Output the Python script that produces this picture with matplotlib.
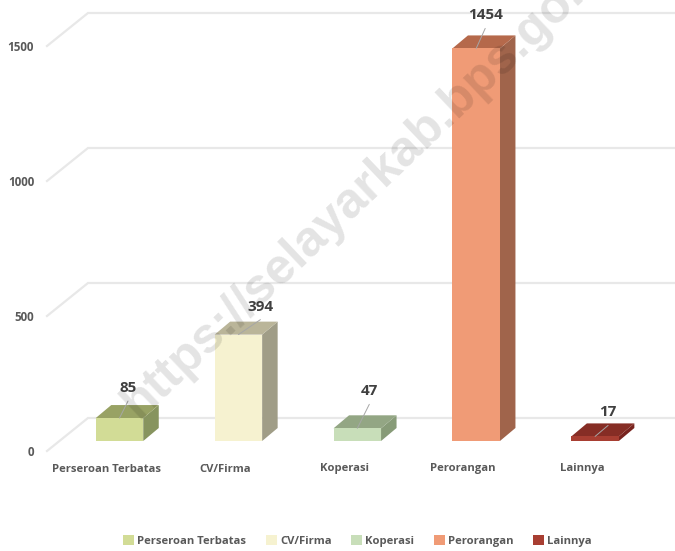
import matplotlib
matplotlib.use("Agg")
import matplotlib.pyplot as plt
from matplotlib.patches import Polygon, Patch

categories = ["Perseroan Terbatas", "CV/Firma", "Koperasi", "Perorangan", "Lainnya"]
values = [85, 394, 47, 1454, 17]
y_ticks = [0, 500, 1000, 1500]
front_colors = ["#D2DC96", "#F6F2D0", "#C8DEB9", "#F09B76", "#A83E32"]
top_colors = ["#98A264", "#BAB599", "#93A684", "#B5694B", "#862D25"]
side_colors = ["#87945F", "#A09D87", "#879B78", "#A0644B", "#78231E"]
label_offsets = [(8.5, 30), (22, 28), (12, 37), (9, 33), (13, 24)]

W, H = 675, 551
PX_X = 118.9          # pixels per category
PX_Y = 0.27           # pixels per unit
X0, Y0 = 119.5, 441   # pixel of category 0 / value 0
BAR_W = 47.5 / PX_X
DX, DY = 15.5 / PX_X, 13 / PX_Y

plt.rcParams["font.family"] = ["Open Sans", "DejaVu Sans"]
fig = plt.figure(figsize=(W / 100, H / 100), dpi=100)
ax = fig.add_axes([0, 0, 1, 1])
ax.set_xlim(-X0 / PX_X, (W - X0) / PX_X)
ax.set_ylim((Y0 - H) / PX_Y, Y0 / PX_Y)
ax.axis("off")

# Gridlines: back wall plus the slanted floor/side segment
grid_c = "#E8E8E8"
gx_left, gx_back = (47 - X0) / PX_X, (88 - X0) / PX_X
gx_right = (W - X0) / PX_X
for v in y_ticks:
    y_back = v + 23 / PX_Y
    y_front = v - 10 / PX_Y
    ax.plot([gx_left, gx_back, gx_right], [y_front, y_back, y_back],
            color=grid_c, lw=1.6, zorder=1, solid_joinstyle="miter")
    ax.text(34 / PX_X - X0 / PX_X, v - 42, str(v), ha="right", va="center",
            fontsize=8.4, fontweight="bold", color="#595959")

# 3-D bars
for i, (v, f, t, s) in enumerate(zip(values, front_colors, top_colors, side_colors)):
    l, r = i - BAR_W / 2, i + BAR_W / 2
    ax.add_patch(Polygon([(r, 0), (r + DX, DY), (r + DX, v + DY), (r, v)], fc=s, ec="none", zorder=3))
    ax.add_patch(Polygon([(l, v), (r, v), (r + DX, v + DY), (l + DX, v + DY)], fc=t, ec="none", zorder=3))
    ax.bar(i, v, width=BAR_W, color=f, zorder=4)

# Data labels with leader lines
for i, (v, off) in enumerate(zip(values, label_offsets)):
    ax.annotate(str(v), xy=(i, v), xytext=(off[0] * 0.72, off[1] * 0.72),
                textcoords="offset points", ha="center", va="center",
                fontsize=11, fontweight="bold", color="#404040", zorder=6)
    ax.annotate("", xy=(i, v), xytext=(off[0] * 0.72, (off[1] - 13) * 0.72),
                textcoords="offset points",
                arrowprops=dict(arrowstyle="-", color="#A6A6A6", lw=0.7, shrinkA=0, shrinkB=0),
                zorder=6)

# Category labels
for i, c in enumerate(categories):
    ax.text(i - 13 / PX_X, (Y0 - 469) / PX_Y, c, ha="center", va="center",
            fontsize=8.1, fontweight="bold", color="#595959")

# Legend
handles = [Patch(fc=f, ec="none", label=c) for c, f in zip(categories, front_colors)]
ax.legend(handles=handles, ncol=5, loc="center", frameon=False,
          bbox_to_anchor=(357.5 / W, 1 - 541 / H), labelcolor="#595959",
          prop=dict(family="Open Sans", weight="bold", size=8.1),
          handlelength=0.95, handleheight=0.95, handletextpad=0.3, columnspacing=1.75,
          borderpad=0, borderaxespad=0)

# Watermark (runs off the top edge, as in the reference)
ax.text(130 / W, 1 - 410 / H, "https://selayarkab.bps.go.id", transform=ax.transAxes,
        rotation=43.5, rotation_mode="anchor", ha="left", va="center",
        fontsize=36, family="Liberation Sans", fontweight="bold",
        color="#000000", alpha=0.11, zorder=8)

fig.savefig("out.png", dpi=100, facecolor="white")
